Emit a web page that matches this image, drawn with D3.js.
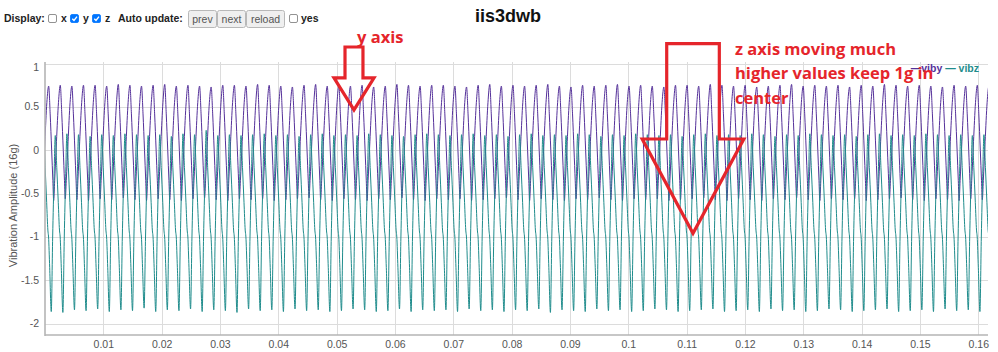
<!DOCTYPE html>
<html>
<head>
<meta charset="utf-8">
<script src="https://cdn.jsdelivr.net/npm/d3@7/dist/d3.min.js"></script>
<style>
    html, body { margin: 0; padding: 0; background: #fff; }
    svg { display: block; font-family: "Liberation Sans", Arial, sans-serif; }
</style>
</head>
<body>
<svg id="chart" width="998" height="352"></svg>
<script>

// axis ticks
var xTicks = [ 0.01, 0.02, 0.03, 0.04, 0.05, 0.06, 0.07, 0.08, 0.09, 0.1, 0.11, 0.12, 0.13, 0.14, 0.15, 0.16 ];
var yTicks = [ -2, -1.5, -1, -0.5, 0, 0.5, 1 ];
var seriesNames = [ 'viby', 'vibz' ];

// timing (seconds)
var timeEnd = 0.16166;
var cycleStart = -0.002219;   // vibz peak of the first (clipped) cycle
var period = 0.00199;         // ~502 Hz

// vibz inside one cycle: offsets after its peak (s) and levels (g)
var vibzFallOffsets = [ 0.000257, 0.000514, 0.00072, 0.00084, 0.00103 ];
var vibzFallLevels = [ -0.2, -0.6, -0.92, -1.0, -1.35 ];
var vibzTroughOffset = 0.001303;
var vibzRiseOffsets = [ 0.001543, 0.001783 ];
var vibzRiseLevels = [ -1.0, -0.3 ];

// viby inside one cycle: offsets after the vibz peak (s) and levels (g)
var vibyPeakOffset = 0.000857;
var vibyFallOffsets = [ 0.001114, 0.001371, 0.001577 ];
var vibyFallLevels = [ 0.42, 0.0, -0.35 ];
var vibyTroughOffset = 0.001714;
var vibyRiseOffsets = [ 0.001886, 0.002194, 0.002537 ];
var vibyRiseLevels = [ -0.35, 0.1, 0.55 ];

// peaks and troughs, one per cycle
var vibyPeaks = [
    0.75, 0.74, 0.75, 0.74, 0.75, 0.75, 0.74, 0.76, 0.75, 0.74,
    0.75, 0.76, 0.74, 0.75, 0.74, 0.73, 0.75, 0.75, 0.74, 0.76,
    0.75, 0.74, 0.73, 0.75, 0.76, 0.74, 0.75, 0.74, 0.75, 0.73,
    0.74, 0.76, 0.75, 0.74, 0.75, 0.75, 0.74, 0.73, 0.75, 0.76,
    0.74, 0.75, 0.74, 0.75, 0.76, 0.74, 0.73, 0.75, 0.74, 0.75,
    0.76, 0.74, 0.75, 0.74, 0.73, 0.75, 0.75, 0.74, 0.76, 0.75,
    0.74, 0.75, 0.73, 0.74, 0.75, 0.76, 0.74, 0.75, 0.74, 0.75,
    0.73, 0.75, 0.74, 0.76, 0.75, 0.74, 0.75, 0.74, 0.73, 0.75,
    0.74, 0.75, 0.74
];
var vibyTroughs = [
    -0.57, -0.58, -0.56, -0.57, -0.58, -0.56, -0.57, -0.55, -0.57, -0.58,
    -0.56, -0.57, -0.58, -0.56, -0.55, -0.57, -0.58, -0.56, -0.57, -0.56,
    -0.58, -0.57, -0.56, -0.55, -0.57, -0.58, -0.56, -0.57, -0.58, -0.56,
    -0.57, -0.55, -0.57, -0.58, -0.56, -0.57, -0.56, -0.58, -0.57, -0.56,
    -0.55, -0.57, -0.58, -0.56, -0.57, -0.58, -0.56, -0.57, -0.55, -0.57,
    -0.58, -0.56, -0.57, -0.56, -0.58, -0.57, -0.56, -0.55, -0.57, -0.58,
    -0.56, -0.57, -0.58, -0.56, -0.57, -0.55, -0.57, -0.58, -0.56, -0.57,
    -0.56, -0.58, -0.57, -0.56, -0.55, -0.57, -0.58, -0.56, -0.57, -0.58,
    -0.56, -0.57, -0.56
];
var vibzPeaks = [
    0.17, 0.18, 0.17, 0.19, 0.18, 0.16, 0.18, 0.17, 0.19, 0.18,
    0.17, 0.18, 0.16, 0.19, 0.18, 0.23, 0.17, 0.18, 0.17, 0.18,
    0.19, 0.17, 0.18, 0.16, 0.18, 0.19, 0.17, 0.18, 0.17, 0.19,
    0.18, 0.17, 0.16, 0.18, 0.19, 0.18, 0.17, 0.18, 0.19, 0.17,
    0.18, 0.16, 0.18, 0.19, 0.17, 0.18, 0.17, 0.19, 0.18, 0.16,
    0.18, 0.17, 0.19, 0.18, 0.17, 0.18, 0.16, 0.18, 0.19, 0.17,
    0.18, 0.17, 0.19, 0.18, 0.16, 0.18, 0.17, 0.19, 0.18, 0.17,
    0.18, 0.16, 0.18, 0.19, 0.17, 0.18, 0.17, 0.19, 0.18, 0.17,
    0.18, 0.17, 0.18
];
var vibzTroughs = [
    -1.85, -1.86, -1.87, -1.84, -1.85, -1.83, -1.86, -1.84, -1.85, -1.82,
    -1.86, -1.84, -1.85, -1.83, -1.86, -1.84, -1.85, -1.87, -1.83, -1.85,
    -1.84, -1.86, -1.83, -1.85, -1.84, -1.86, -1.85, -1.83, -1.84, -1.86,
    -1.85, -1.83, -1.86, -1.84, -1.85, -1.84, -1.86, -1.83, -1.85, -1.84,
    -1.86, -1.84, -1.85, -1.83, -1.87, -1.84, -1.85, -1.86, -1.83, -1.85,
    -1.84, -1.86, -1.85, -1.83, -1.84, -1.86, -1.85, -1.84, -1.83, -1.86,
    -1.85, -1.84, -1.86, -1.83, -1.85, -1.84, -1.86, -1.85, -1.83, -1.84,
    -1.86, -1.85, -1.84, -1.83, -1.86, -1.85, -1.84, -1.86, -1.83, -1.85,
    -1.84, -1.86, -1.85
];

// hand drawn notes on the screenshot, in data units (s, g)
var noteArrows = [
    { x: 0.05297, shaft: 0.00154, head: 0.00343, top: 1.191, neck: 0.834, tip: 0.465 },
    { x: 0.11109, shaft: 0.00451, head: 0.00871, top: 1.231, neck: 0.130, tip: -0.957 }
];
var noteTexts = [
    { x: 0.05349, y: 1.238, lines: [ 'y axis' ] },
    { x: 0.11829, y: 1.099, lines: [ 'z axis moving much', 'higher values keep 1g in', 'center' ] }
];

var colors = [ '#55319a', '#1f8c8c' ];
var red = '#e5252b';

var margin = { left: 45, right: 10, top: 62, bottom: 17 };
var width = 998, height = 352;

var svg = d3.select('#chart');

var x = d3.scaleLinear()
    .domain([ 0, timeEnd ])
    .range([ margin.left, width - margin.right ]);

var y = d3.scaleLinear()
    .domain([ -2.13, 1.018 ])
    .range([ height - margin.bottom, margin.top ]);

// build the two series
var viby = [], vibz = [];

vibzPeaks.forEach(function ( p, c ) {

    var t = cycleStart + c * period;

    vibz.push([ t, p ]);
    vibzFallOffsets.forEach(function ( o, i ) { vibz.push([ t + o, vibzFallLevels[ i ] ]); });
    vibz.push([ t + vibzTroughOffset, vibzTroughs[ c ] ]);
    vibzRiseOffsets.forEach(function ( o, i ) { vibz.push([ t + o, vibzRiseLevels[ i ] ]); });

    viby.push([ t + vibyPeakOffset, vibyPeaks[ c ] ]);
    vibyFallOffsets.forEach(function ( o, i ) { viby.push([ t + o, vibyFallLevels[ i ] ]); });
    viby.push([ t + vibyTroughOffset, vibyTroughs[ c ] ]);
    vibyRiseOffsets.forEach(function ( o, i ) { viby.push([ t + o, vibyRiseLevels[ i ] ]); });

});

// grid

svg.append('g')
    .selectAll('line')
    .data( xTicks )
    .enter().append('line')
    .attr('x1', function ( d ) { return Math.round( x( d ) ) + 0.5; })
    .attr('x2', function ( d ) { return Math.round( x( d ) ) + 0.5; })
    .attr('y1', y.range()[1])
    .attr('y2', y.range()[0])
    .style('stroke', '#dcdcdc');

svg.append('g')
    .selectAll('line')
    .data( yTicks )
    .enter().append('line')
    .attr('x1', x.range()[0])
    .attr('x2', x.range()[1])
    .attr('y1', function ( d ) { return Math.round( y( d ) ) + 0.5; })
    .attr('y2', function ( d ) { return Math.round( y( d ) ) + 0.5; })
    .style('stroke', '#dcdcdc');

// lines

svg.append('defs').append('clipPath')
    .attr('id', 'plot-clip')
    .append('rect')
    .attr('x', x.range()[0])
    .attr('y', y.range()[1])
    .attr('width', x.range()[1] - x.range()[0])
    .attr('height', y.range()[0] - y.range()[1]);

var line = d3.line()
    .x(function ( d ) { return x( d[0] ); })
    .y(function ( d ) { return y( d[1] ); })
    .curve( d3.curveMonotoneX );

svg.append('g')
    .attr('clip-path', 'url(#plot-clip)')
    .selectAll('path')
    .data([ viby, vibz ])
    .enter().append('path')
    .attr('d', line)
    .style('fill', 'none')
    .style('stroke', function ( d, i ) { return colors[ i ]; })
    .style('stroke-width', 1);

// axes

var xAxis = svg.append('g')
    .attr('transform', 'translate(0,' + y.range()[0] + ')')
    .call( d3.axisBottom( x ).tickValues( xTicks ).tickSize( 0 ).tickPadding( 5.5 ).tickFormat( String ) );

var yAxis = svg.append('g')
    .attr('transform', 'translate(' + x.range()[0] + ',0)')
    .call( d3.axisLeft( y ).tickValues( yTicks ).tickSize( 0 ).tickPadding( 6 ).tickFormat( String ) );

[ xAxis, yAxis ].forEach(function ( a ) {

    a.select('.domain').remove();
    a.selectAll('text')
        .style('font-size', '10.5px')
        .style('font-family', '"Liberation Sans", Arial, sans-serif')
        .style('fill', '#555');

});

// keep the top label inside the plot like dygraphs does
yAxis.selectAll('.tick')
    .attr('transform', function ( d ) { return 'translate(0,' + Math.max( y( d ), y.range()[1] + 6 ) + ')'; });

svg.append('line')
    .attr('x1', x.range()[0]).attr('x2', x.range()[0])
    .attr('y1', y.range()[1]).attr('y2', y.range()[0] + 1)
    .style('stroke', '#b4b4b4')
    .style('stroke-width', 1.6);

svg.append('line')
    .attr('x1', x.range()[0]).attr('x2', x.range()[1])
    .attr('y1', y.range()[0]).attr('y2', y.range()[0])
    .style('stroke', '#b4b4b4')
    .style('stroke-width', 1.6);

svg.append('text')
    .attr('transform', 'translate(16.5,' + ( ( y.range()[0] + y.range()[1] ) / 2 + 7 ) + ') rotate(-90)')
    .attr('text-anchor', 'middle')
    .style('font-size', '11px')
    .style('fill', '#555')
    .text('Vibration Amplitude (16g)');

// title

svg.append('text')
    .attr('x', 508)
    .attr('y', 22)
    .attr('text-anchor', 'middle')
    .style('font-size', '18px')
    .style('font-weight', 'bold')
    .style('fill', '#111')
    .text('iis3dwb');

// legend

var legend = svg.append('text')
    .attr('x', 979)
    .attr('y', 72)
    .attr('text-anchor', 'end')
    .style('font-size', '10.5px')
    .style('font-weight', 'bold');

seriesNames.forEach(function ( name, i ) {

    legend.append('tspan')
        .style('fill', colors[ i ])
        .text( ( i ? ' \u2014 ' : '\u2014' ) + name );

});

// control bar

var bar = svg.append('g')
    .style('font-size', '10.5px');

function label ( xPos, txt ) {

    bar.append('text')
        .attr('x', xPos)
        .attr('y', 22)
        .style('font-weight', 'bold')
        .style('fill', '#222')
        .text( txt );

}

function checkbox ( xPos, checked ) {

    bar.append('rect')
        .attr('x', xPos + 0.5)
        .attr('y', 14.5)
        .attr('width', 8)
        .attr('height', 8)
        .attr('rx', 1.5)
        .style('fill', checked ? '#0075ff' : '#fff')
        .style('stroke', checked ? '#0075ff' : '#767676')
        .style('stroke-width', 0.8);

    if ( checked ) {

        bar.append('path')
            .attr('d', 'M' + ( xPos + 2.3 ) + ',18.7 L' + ( xPos + 4 ) + ',20.4 L' + ( xPos + 7 ) + ',16.6')
            .style('fill', 'none')
            .style('stroke', '#fff')
            .style('stroke-width', 1.4);

    }

}

function button ( xPos, w, txt ) {

    bar.append('rect')
        .attr('x', xPos + 0.5)
        .attr('y', 10.5)
        .attr('width', w)
        .attr('height', 17)
        .attr('rx', 2)
        .style('fill', '#efefef')
        .style('stroke', '#b8b8b8');

    bar.append('text')
        .attr('x', xPos + 0.5 + w / 2)
        .attr('y', 22.5)
        .attr('text-anchor', 'middle')
        .style('fill', '#555')
        .text( txt );

}

label( 4, 'Display:' );
checkbox( 48, false );
label( 61, 'x' );
checkbox( 70, true );
label( 83, 'y' );
checkbox( 92, true );
label( 105, 'z' );
label( 118, 'Auto update:' );
button( 188, 28, 'prev' );
button( 217, 28, 'next' );
button( 246, 38, 'reload' );
checkbox( 289, false );
label( 301, 'yes' );

// notes drawn on top

svg.append('g')
    .selectAll('path')
    .data( noteArrows )
    .enter().append('path')
    .attr('d', function ( a ) {

        var pts = [
            [ a.x - a.shaft, a.top ], [ a.x + a.shaft, a.top ], [ a.x + a.shaft, a.neck ],
            [ a.x + a.head, a.neck ], [ a.x, a.tip ], [ a.x - a.head, a.neck ], [ a.x - a.shaft, a.neck ]
        ];
        return 'M' + pts.map(function ( p ) { return x( p[0] ) + ',' + y( p[1] ); }).join('L') + 'Z';

    })
    .style('fill', 'none')
    .style('stroke', red)
    .style('stroke-width', 3.2);

noteTexts.forEach(function ( n ) {

    var t = svg.append('text')
        .attr('x', x( n.x ))
        .attr('y', y( n.y ))
        .style('font-family', '"Open Sans", sans-serif')
        .style('font-size', '16.5px')
        .style('font-weight', 'bold')
        .style('fill', red);

    n.lines.forEach(function ( l, i ) {

        t.append('tspan')
            .attr('x', x( n.x ))
            .attr('dy', i ? 24.5 : 0)
            .text( l );

    });

});

</script>
</body>
</html>
